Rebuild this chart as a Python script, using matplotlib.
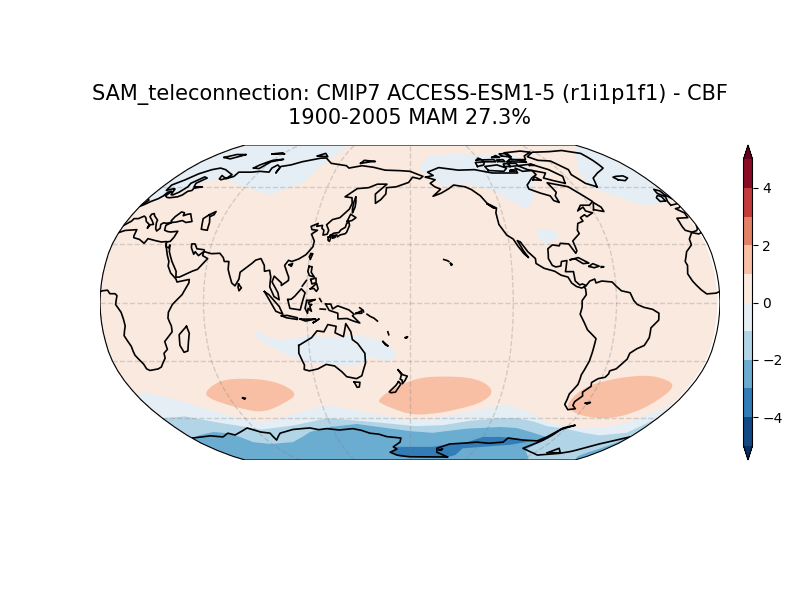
import numpy as np
import matplotlib
matplotlib.use("Agg")
import matplotlib.pyplot as plt
from matplotlib.cm import ScalarMappable
from matplotlib.colors import BoundaryNorm, ListedColormap
from matplotlib.patches import PathPatch, Polygon
from matplotlib.path import Path

title = "SAM_teleconnection: CMIP7 ACCESS-ESM1-5 (r1i1p1f1) - CBF\n1900-2005 MAM 27.3%"
levels = list(range(-5, 6))
cbar_ticks = [-4, -2, 0, 2, 4]
grid_lons = [0, 60, 120, 180, 240, 300]
grid_lats = [-60, -30, 0, 30, 60]

# Robinson table
rob_lat = [0, 5, 10, 15, 20, 25, 30, 35, 40, 45, 50, 55, 60, 65, 70, 75, 80, 85, 90]
rob_plen = [1, .9986, .9954, .99, .9822, .973, .96, .9427, .9216, .8962, .8679, .835, .7986,
            .7597, .7186, .6732, .6213, .5722, .5322]
rob_pdfe = [0, .062, .124, .186, .248, .31, .372, .434, .4958, .5571, .6176, .6769, .7346,
            .7903, .8435, .8936, .9394, .9761, 1]

# filled regions, (lon, lat), lon 0-360
# value < 0
neg1_south = [(0, -49), (3, -46.5), (7, -46), (24, -50), (41.5, -56), (53, -59.5), (70, -62), (87, -60),
              (105, -56), (124, -53), (150, -57), (180, -61), (197, -60), (220, -57), (242, -53), (254, -54),
              (268, -58), (284, -62.7), (304, -65), (326, -65.6), (341, -62.7), (350, -58), (360, -53),
              (360, -90), (0, -90), (0, -49)]
neg1_arctic_west = [(0, 52), (9, 54.5), (16, 55.5), (25, 62), (35, 65), (60, 60), (81, 55.5), (100, 62),
                    (108, 76), (115, 86.5), (109, 90), (0, 90), (0, 52)]
neg1_canada = [(188, 69.8), (190, 74.3), (198, 79), (227, 80.5), (242, 79.7), (254, 79.7), (272, 82),
               (278.6, 77.5), (279, 73), (275, 66.5), (264, 52.8), (257, 48), (250, 51.5), (239.5, 58),
               (222, 62), (204, 61), (195, 65.6), (188, 69.8)]
neg1_greenland = [(360, 90), (345, 84), (333.5, 79.7), (314.7, 69.8), (311, 60), (323.5, 54.5), (336, 50),
                  (350, 50.7), (360, 54), (360, 90)]
neg1_mexico = [(258.7, 37), (264, 38.2), (272, 36), (270.5, 33), (266, 31.5), (261.7, 29.5), (258.5, 33)]
neg1_australia = [(87.6, -15.5), (90.6, -14), (98.3, -19.2), (113.7, -18.3), (122, -16.6), (131.5, -18.3),
                  (145.7, -16.6), (157.5, -18), (167, -21.3), (173, -26.9), (167, -30.8), (155, -26.9),
                  (154, -30.3), (142, -33.2), (128.5, -31.3), (114.5, -30.6), (104, -25.5), (92.5, -20.3)]
# value < -1
neg2_south = [(0, -60), (18, -59), (37, -62.5), (65, -66.5), (93, -64), (120, -60), (150, -62), (184, -64.5),
              (205, -64), (224, -61.5), (245, -60), (258, -60), (272, -62), (284, -64.5), (300, -66), (318, -68.5),
              (333, -70), (352, -68.5), (356, -64), (360, -60), (360, -90), (0, -90), (0, -60)]
# value < -2
neg3_south = [(0, -72), (10.6, -69.8), (25, -68), (34, -68.7), (40.7, -71), (46, -74.3), (59, -75.5), (80, -74.3),
              (92, -71), (101, -68), (119, -65), (140, -63.3), (180, -67.5), (198, -68.5), (224, -66), (249, -65),
              (262, -65.6), (278, -68.5), (295, -71.7), (291, -74.3), (287, -79.7), (304, -87), (308, -90),
              (0, -90), (0, -72)]
neg3_sliver = [(360, -90), (350, -85), (351, -81), (355, -77.5), (360, -71), (360, -90)]
# value < -3
neg4_south = [(162.5, -82), (167, -77.5), (171, -77.5), (200.6, -77.5), (214.6, -75.5), (228.7, -74.3), (240, -71),
              (254, -71), (266, -71.7), (284, -73.5), (268, -76), (245, -77.5), (228, -78.5), (225, -84), (215, -87),
              (170, -85.7), (162.5, -82)]
# value > 1
pos1_indian = [(46, -46), (60, -39.8), (76, -38.7), (95, -40.2), (107, -46.5), (96, -51.5), (76.5, -57), (64, -55),
               (53, -52), (46, -49)]
pos1_pacific = [(158.6, -50), (167, -45), (183, -38.8), (200.6, -37.6), (222, -38.7), (235, -45), (230, -51),
                (214.6, -55), (194, -58), (180, -58), (169, -55), (160, -52)]
pos1_atlantic = [(287, -52), (290, -45), (300.6, -40.2), (325.6, -36.7), (343, -39.7), (350, -43.6), (346, -51),
                 (339, -57), (325, -60.5), (304, -59), (290, -55)]

# coastlines, (lon, lat)
africa = [(-5.9, 35.8), (-2, 35.1), (3, 36.9), (10, 37.3), (10.5, 34), (11, 33.2), (15, 32.3), (19, 30.3), (20, 32.7),
          (25, 31.7), (29, 31), (32.3, 31.2), (32.5, 30), (33.7, 27.5), (35.5, 24), (37.2, 21), (37.3, 18.7),
          (39.5, 15.2), (43.2, 12), (44, 10.5), (51, 11.8), (51, 10), (47.5, 4), (42, -1), (39.5, -5), (39, -8),
          (40.5, -12), (40.5, -15), (35, -20), (35.5, -24), (32.8, -26), (32.5, -28.5), (28, -33), (25.5, -34),
          (20, -34.8), (18.4, -34), (18, -31.5), (15, -27), (14.5, -22.5), (11.8, -17), (13.5, -12), (13, -8.5),
          (12, -5), (9, -1), (9.7, 3.5), (8.5, 4.5), (5.5, 4.5), (4, 6.3), (1, 6), (-2, 4.8), (-7.5, 4.4),
          (-10.5, 6.5), (-13.2, 9), (-15, 11), (-17.2, 14.7), (-16.2, 19), (-17, 21), (-14.5, 26), (-10, 29.5),
          (-9.5, 32.5), (-5.9, 35.8)]
eurasia = [(32.5, 31), (34.3, 31.3), (35.5, 33.5), (36, 36.5), (32, 36.1), (30, 36.3), (27.5, 37), (26.5, 39.5),
           (29, 41), (31.5, 41.2), (35, 42), (38, 41), (41.5, 41.5), (39, 44), (37.5, 45.5), (35.5, 45.2), (33.5, 44.5),
           (33, 46), (30.7, 46.5), (28.7, 44), (28, 41.8), (29, 41), (26.2, 40.6), (24, 40.8), (23, 40), (24, 38),
           (22.8, 36.6), (21.2, 38), (19.4, 41), (19, 42.2), (15, 44.5), (13.7, 45.6), (12.3, 45.3), (12.5, 44),
           (16, 41.8), (18.4, 40), (16.5, 39.8), (16, 38), (15.7, 40), (12.5, 41.5), (10.3, 43.5), (8.5, 44.3),
           (6, 43), (3.2, 43), (3, 41.8), (0, 39.5), (-0.8, 37.7), (-2, 36.8), (-5.6, 36), (-9, 37), (-9.4, 39),
           (-8.8, 43.2), (-1.5, 43.5), (-1.1, 46), (-4.5, 48.2), (-1.5, 48.7), (1.5, 50.2), (4, 52), (7, 53.5),
           (8.5, 55), (8.5, 57), (10.5, 57.5), (10, 55), (12, 54.2), (14, 54), (19, 54.5), (21, 55.5), (22, 57.5),
           (24.3, 58), (24, 59.2), (29, 60), (23, 60), (21.3, 62), (25, 65), (22, 65.7), (17.5, 62), (18.5, 60),
           (16.5, 57), (14.2, 55.5), (12.8, 55.7), (11, 58.8), (10, 59), (6, 58), (5, 61), (10, 64), (14, 67.5),
           (20, 70), (25, 71), (31, 70), (41, 67), (40, 65), (37, 64), (35, 64.5), (34, 66.5), (40, 64.6), (44, 66),
           (44, 68.5), (54, 68.5), (60, 69), (68, 68.5), (67, 71), (69, 73), (73, 71.5), (74, 68), (73, 72), (80, 73),
           (87, 75), (100, 77.5), (105, 77.6), (113, 74), (127, 72.5), (130, 71), (140, 72.5), (150, 71.5),
           (160, 69.7), (170, 69.5), (180, 69), (-175, 67.5), (-170, 66), (-172.5, 64.5), (-178, 65.5), (179, 62.5),
           (170, 60), (163, 59.5), (163, 56), (160, 53), (156.7, 51), (155.7, 56), (163, 61.5), (156, 61.5),
           (150, 59.5), (142, 59), (135, 54.5), (140, 54), (141, 51), (140, 48), (135, 43.5), (130.5, 42.5),
           (127.5, 39.8), (129.5, 37), (129, 35), (126.5, 34.5), (126.5, 37), (125, 38), (125, 39.5), (121.5, 39),
           (122, 40.5), (118, 39), (119, 37.3), (122.5, 37), (119.3, 35), (121.8, 31.5), (121.5, 28.5), (118, 24.5),
           (114, 22.3), (110, 21), (108, 21.6), (106, 19), (109, 13), (109, 11.3), (105, 8.7), (105, 10), (100.5, 13.5),
           (99.5, 10.5), (103.2, 5), (104, 1.4), (101, 3), (98.3, 8), (98.5, 13), (97.5, 16.5), (94.5, 16), (94, 19),
           (91.5, 22.5), (88.5, 21.7), (86.5, 20), (80.3, 15.5), (80, 12), (78, 8.5), (76, 10), (73, 17), (72.7, 21),
           (70, 21), (69, 23), (66.5, 25.2), (61.5, 25), (57, 26), (56.5, 27), (52, 27.5), (50, 30), (48, 30), (48.5, 28),
           (51, 24.7), (51.5, 26), (54, 24), (56.5, 26), (56.5, 24), (59.8, 22.5), (55, 17), (52, 16), (45, 13), (43, 13),
           (42.6, 16), (39, 21), (36, 26), (35, 29.5), (34.8, 28), (33, 28.5), (32.5, 30)]
north_america = [(-168, 65.5), (-162, 66.5), (-166, 68.5), (-156.5, 71.3), (-141, 69.7), (-128, 70), (-115, 68),
                 (-108, 68), (-95, 68), (-94, 71), (-90, 69), (-82, 69.5), (-81.5, 67), (-87, 65), (-94, 61), (-94.5, 58.8),
                 (-88, 56.5), (-82.5, 55), (-82, 52.5), (-79, 51.5), (-79, 55), (-76.5, 57), (-78, 62.3), (-70, 61),
                 (-65, 60), (-61.5, 57), (-56, 52), (-60, 50), (-66, 50), (-70, 47), (-65, 49), (-64.8, 47), (-61, 46),
                 (-66, 44), (-67, 45), (-70.5, 43.5), (-70, 41.7), (-74, 40.5), (-76, 37), (-75.6, 35.3), (-81, 31.5),
                 (-80, 26.5), (-81, 25.2), (-82.7, 28), (-84, 30), (-89, 30.3), (-90, 29), (-94, 29.5), (-97.2, 27.5),
                 (-97.8, 22.5), (-96, 19), (-94, 18.2), (-91, 18.7), (-90.3, 21), (-87, 21.5), (-88, 18), (-88.7, 15.8),
                 (-84, 15.8), (-83.5, 11), (-81, 9), (-79.5, 9.5), (-77.3, 8.7), (-78.5, 8), (-80, 7.4), (-83, 8.2),
                 (-85.7, 10), (-87.5, 13), (-91.5, 14), (-95, 16), (-101, 17.5), (-105.5, 20), (-105.5, 22.5),
                 (-109.5, 26), (-113, 31), (-114.7, 31.7), (-112, 26.5), (-109.5, 23), (-112, 25), (-115, 29), (-117, 32.5),
                 (-120.5, 34.5), (-124, 40), (-124, 46), (-122.7, 48.5), (-128, 51), (-131, 55), (-136, 58.5), (-140, 60),
                 (-148, 61), (-152, 59), (-158, 56.5), (-164, 54.8), (-158, 58.7), (-162, 60), (-165, 62), (-161, 64),
                 (-168, 65.5)]
south_america = [(-77.3, 8.7), (-75, 11), (-72, 12), (-71.5, 10), (-68, 11), (-62, 10.5), (-60, 8.5), (-57, 6), (-52, 5),
                 (-50, 1), (-48, -1), (-44, -2.5), (-39, -3.5), (-35.2, -5.5), (-35, -9), (-39, -13), (-39, -18), (-41, -22),
                 (-45, -23.7), (-48.5, -26), (-49, -29), (-53.5, -34), (-57, -35), (-56.8, -36.5), (-58, -38.3), (-62, -39),
                 (-65, -41), (-64, -43), (-67.5, -46), (-66, -48), (-69, -51), (-68.5, -53), (-65.2, -54.8), (-70, -55.3),
                 (-74.5, -52.5), (-75.5, -47), (-73, -42), (-73.5, -37), (-71.5, -30), (-70.3, -18.5), (-76, -14), (-81, -6),
                 (-80, -2.5), (-80, 1), (-77.5, 4), (-77.8, 7), (-78.5, 8)]
australia = [(114, -22), (113.5, -26), (115.7, -32), (115, -34.3), (118, -35), (123.5, -34), (129, -31.7), (134, -32.5),
             (138, -35.5), (140.5, -38), (146.5, -39), (150, -37.5), (153, -31), (153, -26), (149, -21), (146, -19),
             (145.3, -15), (142.5, -10.8), (141.5, -15), (140.8, -17.5), (136, -15.5), (136.8, -12.2), (132, -11.3),
             (129.5, -15), (125.5, -14.5), (122, -18), (114, -22)]
antarctica = [(0, -71.7), (10, -71), (18, -70.3), (27, -71), (35, -68.7), (39, -69.8), (47, -67.8), (54.6, -65.6), (62, -68),
              (68.6, -68.7), (68, -73), (76.6, -68.7), (89, -66.5), (96, -66), (103, -65.6), (109, -66.6), (115.7, -66),
              (125, -66.8), (135.8, -66), (142, -67), (148, -68.7), (155, -69.3), (161, -70.8), (172.5, -71.7),
              (171.5, -74.3), (165, -77.5), (168, -79), (161, -81.5), (167, -84), (180, -85.7), (209, -86), (219, -86),
              (205.7, -81.5), (204.5, -78.5), (214.6, -75.5), (226, -75), (237, -74.3), (248, -75), (259.5, -74.3),
              (261, -71.7), (275, -73), (287.6, -73.5), (292, -71), (297, -66.5), (305, -64), (297.7, -65.6), (295, -69.8),
              (292, -73), (283, -78.5), (307, -84), (325.6, -82.5), (332, -81), (344.5, -75.5), (360, -71)]
berkner = [(312.6, -82), (316, -78.5), (325, -82), (312.6, -82)]
greenland = [(-44, 60), (-50, 62), (-54, 67), (-52, 70), (-58, 75.5), (-68, 76), (-73, 78.5), (-62, 82), (-45, 82.5),
             (-30, 83.5), (-18, 81), (-20, 76), (-22, 71), (-32, 68), (-40, 65), (-44, 60)]
baffin = [(-65, 62), (-72, 63.5), (-78, 65), (-73, 68), (-85, 70), (-90, 72.5), (-78, 73.5), (-68, 70), (-62, 66), (-65, 62)]
victoria_isl = [(-117, 69.5), (-105, 69), (-101, 71), (-107, 73), (-118, 72), (-117, 69.5)]
ellesmere = [(-90, 76.5), (-78, 76.5), (-75, 79), (-64, 82), (-72, 83), (-90, 81.5), (-90, 76.5)]
banks = [(-124, 72), (-118, 73), (-116, 75), (-124, 74.5), (-124, 72)]
melville = [(-117, 75), (-106, 75), (-106, 76.5), (-117, 76.3), (-117, 75)]
devon = [(-96, 75), (-80, 74.7), (-80, 75.7), (-92, 76.7), (-96, 75)]
somerset = [(-97, 72), (-90, 72.5), (-90, 74), (-97, 74), (-97, 72)]
axel = [(-96, 79), (-88, 78.3), (-88, 81), (-96, 80.5), (-96, 79)]
prince_patrick = [(-122, 76), (-117, 76.5), (-119, 77.5), (-122, 76)]
bathurst = [(-104, 75.2), (-98, 75), (-98, 76.5), (-104, 76.2), (-104, 75.2)]
cornwallis = [(-96, 75), (-93, 75), (-94, 75.8), (-96, 75)]
ringnes = [(-106, 78), (-99, 78), (-101, 79.3), (-106, 78)]
king_william = [(-100, 69), (-96, 69), (-96, 69.9), (-99, 69.9), (-100, 69)]
prince_wales = [(-102, 72), (-97, 72), (-96, 74), (-101, 73.6), (-102, 72)]
bylot = [(-80, 72.7), (-76, 72.7), (-78, 73.6), (-80, 72.7)]
southampton = [(-87, 64), (-81, 63.7), (-84, 65.7), (-87, 64)]
newfoundland = [(-59, 47.7), (-53, 46.7), (-53, 49), (-56, 51.5), (-59, 47.7)]
vancouver = [(-128, 50.7), (-123.5, 48.4), (-125, 48.7), (-128, 50.7)]
cuba = [(-84.9, 21.9), (-80, 23), (-74.2, 20.2), (-77.7, 19.9), (-82, 22.4), (-84.9, 21.9)]
hispaniola = [(-74.4, 18.5), (-72, 19.9), (-68.4, 18.6), (-71.5, 17.8), (-74.4, 18.5)]
puerto_rico = [(-67.2, 18.4), (-65.7, 18.3), (-67.2, 18)]
hawaii = [(-156, 20), (-155, 19.5), (-155.7, 19), (-156, 20)]
hawaii_west = [(-160, 22), (-158, 21.5), (-157, 21)]
great_britain = [(-5.5, 50), (1, 51), (1.7, 52.7), (0, 53.5), (-2, 56), (-2, 57.7), (-5, 58.6), (-6, 56.5), (-3, 54.5),
                 (-5, 52), (-5.5, 50)]
ireland = [(-6, 52.3), (-10, 52), (-10, 54), (-7.5, 55.3), (-5.7, 54.5), (-6, 52.3)]
iceland = [(-22.5, 64), (-24, 65.5), (-21, 66), (-15, 66.3), (-13.7, 65), (-18, 63.5), (-22.5, 64)]
svalbard = [(12, 78), (20, 77), (27, 80), (18, 80), (12, 78)]
novaya_zemlya = [(52, 71), (57, 70.7), (60, 75), (68, 76.7), (60, 76), (54, 73), (52, 71)]
severnaya = [(95, 79), (105, 78.5), (100, 81), (95, 79)]
franz_josef = [(50, 80.5), (62, 80.5), (58, 81.5), (50, 80.5)]
new_siberia = [(138, 74), (146, 75), (150, 75.2), (140, 76), (138, 74)]
caspian = [(50, 45), (53, 46.7), (53, 45), (51, 44), (53, 41), (54, 37), (50, 37.5), (49, 40), (47.5, 43), (50, 45)]
madagascar = [(49.3, -12.2), (50.4, -15.7), (47.5, -24.8), (45, -25.5), (43.5, -22), (44.3, -16.5), (49.3, -12.2)]
sri_lanka = [(80, 9.5), (81.8, 7.5), (80.5, 6), (79.8, 8), (80, 9.5)]
sumatra = [(95.3, 5.6), (98, 4), (104, -2), (106, -6), (102, -4.5), (98.5, 1), (95.3, 5.6)]
java = [(105.2, -6.8), (108.5, -6.6), (114.4, -7.8), (114.4, -8.7), (108, -7.8), (105.2, -6.8)]
lesser_sunda = [(116, -8.5), (119, -8.5), (125, -8.5), (119, -9.5), (116, -8.5)]
timor = [(123.6, -10.3), (127, -8.4), (125, -9.6), (123.6, -10.3)]
borneo = [(109, 1.5), (111, 1.7), (113, 3.2), (116.7, 7), (119, 5), (117.7, 1), (116.2, -3.8), (110.2, -3), (109, 1.5)]
sulawesi = [(120, 1), (125, 1.5), (121, 0), (121.5, -1), (123, -1), (121.8, -2), (122.7, -4.5), (120.8, -3), (120.4, -5.5),
            (119, -3), (120, 1)]
new_guinea = [(131, -0.8), (134, -0.8), (135, -3.3), (138, -1.7), (144.5, -3.8), (147.5, -6), (146.5, -6.8), (150.7, -10.5),
              (147, -9.5), (143.3, -8.2), (138, -8.4), (138, -5.5), (133, -4), (131, -0.8)]
new_britain = [(148.5, -5.6), (152, -4.2), (152, -5.5), (148.5, -5.6)]
new_ireland = [(150.8, -2.7), (152.8, -4), (153, -4.8)]
solomon = [(155, -6), (157, -7.2), (159, -8), (161, -9.5)]
vanuatu = [(167, -15), (167.5, -16.5)]
new_caledonia = [(164, -20), (167, -22.3), (165.5, -21.7), (164, -20)]
fiji = [(177.3, -18), (178.6, -17.5), (178, -18.2), (177.3, -18)]
seram = [(127.8, -3.3), (130.8, -3.5)]
halmahera = [(127.5, 2), (128.5, 0.5)]
luzon = [(120.5, 18.5), (122.3, 18.3), (122, 15.5), (124, 13), (121, 13.8), (120, 16), (120.5, 18.5)]
mindanao = [(122, 7), (125.5, 9.8), (126.5, 7), (125.5, 5.7), (124, 7.2), (122, 7)]
visayas = [(122, 11.8), (125, 12.5), (125.2, 10.2), (122.8, 9.5), (122, 11.8)]
palawan = [(117.2, 8.4), (119.5, 11.3)]
taiwan = [(121, 25), (122, 25), (120.8, 22), (120.1, 23.5), (121, 25)]
hainan = [(108.7, 19.3), (110.6, 20), (110, 18.5), (108.7, 19.3)]
honshu = [(131, 34.3), (133, 35.5), (136, 35.8), (137, 37.2), (139.5, 38.5), (140, 40.5), (141.2, 41.3), (142, 39.5),
          (140.8, 36), (140, 35.2), (137, 34.6), (135.5, 33.6), (135, 34.6), (132.5, 34.2), (131, 34.3)]
hokkaido = [(140, 41.5), (141.5, 45.3), (145.3, 43.5), (143, 42), (140, 41.5)]
kyushu = [(130, 33.5), (131.7, 33.5), (131, 31.3), (130, 32), (130, 33.5)]
shikoku = [(132.5, 33.8), (134.5, 34.2), (134, 33.3), (132.7, 32.9), (132.5, 33.8)]
sakhalin = [(142.5, 54.3), (143.3, 52), (143.5, 49), (142.5, 46), (142, 48), (142, 52), (142.5, 54.3)]
tasmania = [(144.7, -40.7), (148.3, -40.9), (147.5, -43.3), (146, -43.5), (144.7, -40.7)]
nz_north = [(172.7, -34.5), (175.5, -37), (178.3, -37.7), (176.8, -40), (175.2, -41.6), (175, -39.7), (173.8, -39.3),
            (174.7, -37), (172.7, -34.5)]
nz_south = [(172.7, -40.6), (174.2, -41.7), (172.7, -43.5), (170.5, -46), (167.5, -46.3), (166.5, -45.8), (171, -42.5),
            (172.7, -40.6)]
kerguelen = [(68.8, -49), (70.5, -49.2), (69.5, -49.7), (68.8, -49)]
falkland = [(-61, -51.8), (-58, -51.4), (-59.5, -52.3), (-61, -51.8)]
ross_isl = [(207, -79.5), (210, -79), (209, -79.8), (207, -79.5)]

all_coasts = [africa, eurasia, north_america, south_america, australia, antarctica, berkner, greenland, baffin,
              victoria_isl, ellesmere, banks, melville, devon, somerset, axel, prince_patrick, bathurst, cornwallis,
              ringnes, king_william, prince_wales, bylot, southampton, newfoundland, vancouver,
              cuba, hispaniola, puerto_rico, hawaii, hawaii_west, great_britain, ireland, iceland, svalbard,
              novaya_zemlya, severnaya, franz_josef, new_siberia, caspian, madagascar, sri_lanka, sumatra, java,
              lesser_sunda, timor, borneo, sulawesi, new_guinea, new_britain, new_ireland, solomon, vanuatu,
              new_caledonia, fiji, seram, halmahera, luzon, mindanao, visayas, palawan, taiwan, hainan, honshu,
              hokkaido, kyushu, shikoku, sakhalin, tasmania, nz_north, nz_south, kerguelen, falkland, ross_isl]


def robinson(lon, lat):
    lon = np.asarray(lon, dtype=float)
    lat = np.asarray(lat, dtype=float)
    plen = np.interp(np.abs(lat), rob_lat, rob_plen)
    pdfe = np.interp(np.abs(lat), rob_lat, rob_pdfe)
    return (lon - 180) / 180 * plen, np.sign(lat) * pdfe


def densify(pts, step=2.0):
    # more vertices so that edges bend with the projection
    lons, lats = [pts[0][0]], [pts[0][1]]
    for (a, b), (c, d) in zip(pts[:-1], pts[1:]):
        n = max(int(max(abs(c - a), abs(d - b)) / step), 1)
        for k in range(1, n + 1):
            lons.append(a + (c - a) * k / n)
            lats.append(b + (d - b) * k / n)
    return np.array(lons), np.array(lats)


def split_seam(pts):
    # break a coast where it crosses the map edge (lon 0/360)
    pts = [(x + 360 if x < 0 else x, y) for x, y in pts]
    parts = [[pts[0]]]
    for (a, b), (c, d) in zip(pts[:-1], pts[1:]):
        if abs(c - a) > 180:
            if a > c:
                t = (360 - a) / (c + 360 - a)
                parts[-1].append((360, b + (d - b) * t))
                parts.append([(0, b + (d - b) * t)])
            else:
                t = a / (a + 360 - c)
                parts[-1].append((0, b + (d - b) * t))
                parts.append([(360, b + (d - b) * t)])
        parts[-1].append((c, d))
    return parts


def blob_path(pts):
    # closed outline with rounded corners, the listed points are the control points
    x, y = robinson([p[0] for p in pts], [p[1] for p in pts])
    ctrl = np.column_stack([x, y])
    mids = (ctrl + np.roll(ctrl, -1, axis=0)) / 2
    verts = [mids[-1]]
    codes = [Path.MOVETO]
    for c, m in zip(ctrl, mids):
        verts += [c, m]
        codes += [Path.CURVE3, Path.CURVE3]
    return Path(verts, codes)


base_cmap = plt.get_cmap("RdBu_r")
layer_colors = [base_cmap((v + 5) / 10) for v in np.arange(-4.5, 5)]
cmap = ListedColormap(layer_colors)
cmap.set_under(base_cmap(0.0))
cmap.set_over(base_cmap(1.0))
norm = BoundaryNorm(levels, cmap.N)

fig = plt.figure(figsize=(8, 6), dpi=100)
ax = fig.add_axes([100 / 800, 140 / 600, 620 / 800, 315 / 600])
ax.set_xlim(-1, 1)
ax.set_ylim(-1, 1)
ax.axis("off")

frame_lat = np.arange(-90, 91, 1.0)
ex, ey = robinson(np.full(frame_lat.size, 360.0), frame_lat)
wx, wy = robinson(np.zeros(frame_lat.size), frame_lat)
frame_xy = np.vstack([np.column_stack([ex, ey]), np.column_stack([wx, wy])[::-1]])
frame = Polygon(frame_xy, closed=True, facecolor="none", edgecolor="black", linewidth=0.8, zorder=6)
ax.add_patch(frame)

# base colour stops just short of lon 360, as in the data grid
bx, by = robinson(np.full(frame_lat.size, 358.6), frame_lat)
base = ax.fill(np.r_[bx, wx[::-1]], np.r_[by, wy[::-1]], color=cmap(norm(0.5)), lw=0, zorder=1)
base[0].set_clip_path(frame)

regions = [(neg1_south, -0.5), (neg1_arctic_west, -0.5), (neg1_canada, -0.5), (neg1_greenland, -0.5),
           (neg2_south, -1.5), (neg3_south, -2.5), (neg3_sliver, -2.5), (neg4_south, -3.5)]
for pts, val in regions:
    lon, lat = densify(pts)
    x, y = robinson(lon, lat)
    for p in ax.fill(x, y, color=cmap(norm(val)), lw=0, zorder=2):
        p.set_clip_path(frame)

blobs = [(neg1_mexico, -0.5), (neg1_australia, -0.5), (pos1_indian, 1.5), (pos1_pacific, 1.5), (pos1_atlantic, 1.5)]
for pts, val in blobs:
    ax.add_patch(PathPatch(blob_path(pts), facecolor=cmap(norm(val)), lw=0, zorder=2))

for glon in grid_lons:
    x, y = robinson(np.full(frame_lat.size, float(glon)), frame_lat)
    ax.plot(x, y, color="gray", alpha=0.3, lw=1, ls="--", zorder=3)
for glat in grid_lats:
    x, y = robinson(np.linspace(0, 360, 181), np.full(181, float(glat)))
    ax.plot(x, y, color="gray", alpha=0.3, lw=1, ls="--", zorder=3)

for coast in all_coasts:
    for part in split_seam(coast):
        lon, lat = densify(part)
        x, y = robinson(lon, lat)
        ax.plot(x, y, color="black", lw=1.2, solid_joinstyle="round", zorder=4)[0].set_clip_path(frame)

ax.set_title(title, fontsize=15, pad=15)

cax = fig.add_axes([743.5 / 800, 140 / 600, 9 / 800, 315 / 600])
cbar = fig.colorbar(ScalarMappable(norm=norm, cmap=cmap), cax=cax, extend="both", ticks=cbar_ticks, spacing="uniform")
cbar.minorticks_off()

fig.savefig("out.png", dpi=100)
